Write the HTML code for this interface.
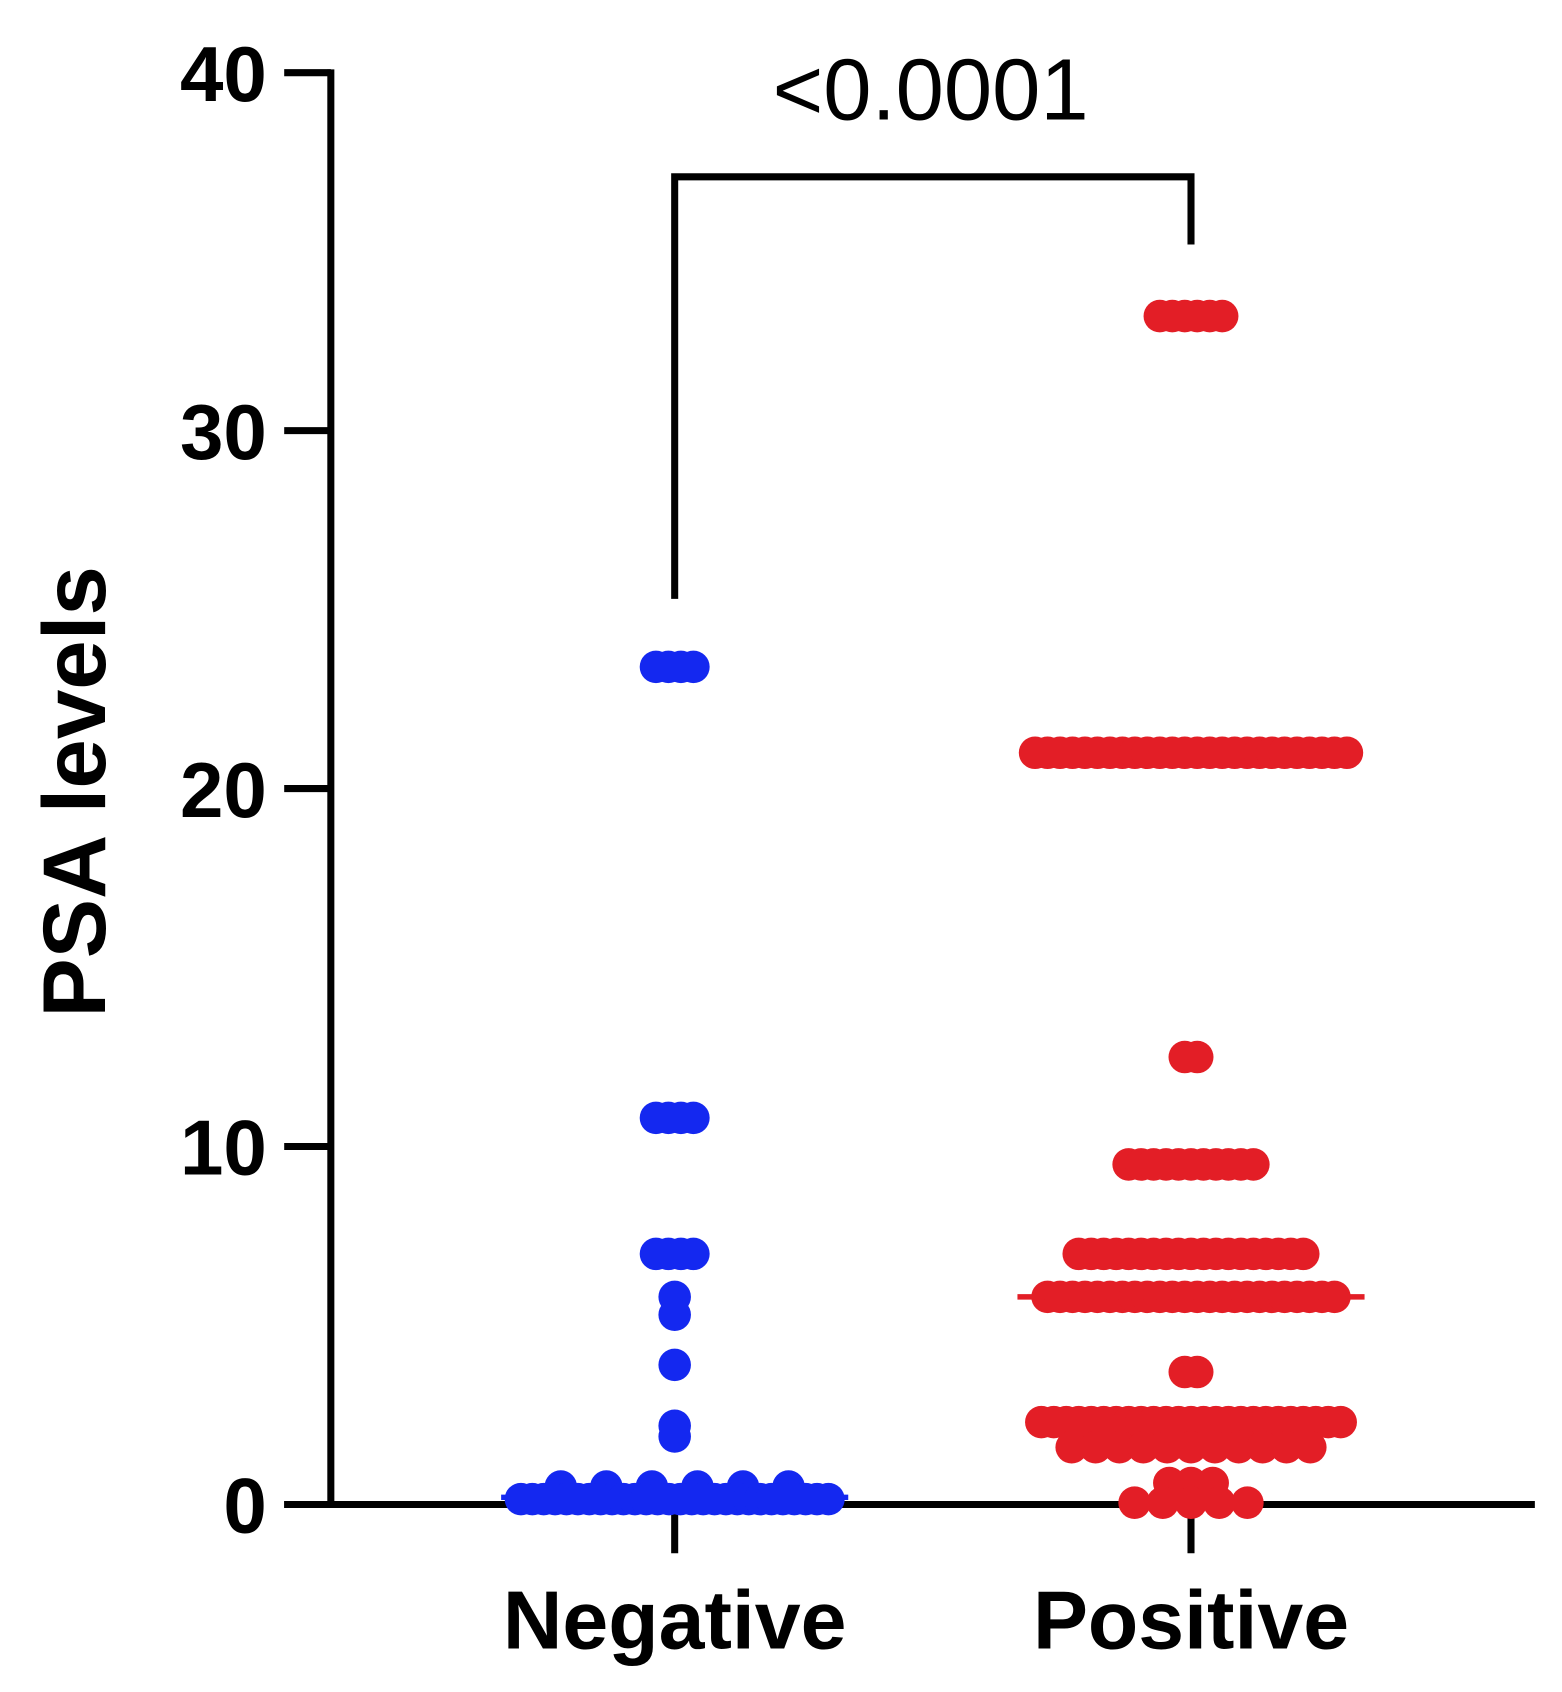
<!DOCTYPE html>
<html><head><meta charset="utf-8"><style>html,body{margin:0;padding:0;background:#fff}svg{display:block}</style></head>
<body>
<svg id="chart" width="1562" height="1692" viewBox="0 0 1562 1692" xmlns="http://www.w3.org/2000/svg" font-family="Liberation Sans, Arial, sans-serif">
<rect width="1562" height="1692" fill="#fff"/>
<g transform="scale(1.0847)">
<g id="axes"></g>
<g id="marks"></g>
</g>
</svg>
<script>
const categories = ["Negative", "Positive"];
const yTicks = [0, 10, 20, 30, 40];
const negativeValues = [23.4,23.4,23.4,23.4, 10.8,10.8,10.8,10.8, 7,7,7,7, 5.8,5.3, 3.9, 2.2,1.9,
  0.5,0.5,0.5,0.5,0.5,0.5,
  0.15,0.15,0.15,0.15,0.15,0.15,0.15,0.15,0.15,0.15,0.15,0.15,0.15,0.15,0.15,0.15,0.15,0.15,0.15,0.15,0.15,0.15,0.15,0.15,0.15,0.15,0.15,0.15];
const positiveValues = [33.2,33.2,33.2,33.2,33.2,33.2,
  21,21,21,21,21,21,21,21,21,21,21,21,21,21,21,21,21,21,21,21,21,21,21,21,21,21,
  12.5,12.5,
  9.5,9.5,9.5,9.5,9.5,9.5,9.5,9.5,9.5,9.5,9.5,
  7,7,7,7,7,7,7,7,7,7,7,7,7,7,7,7,7,7,7,
  5.8,5.8,5.8,5.8,5.8,5.8,5.8,5.8,5.8,5.8,5.8,5.8,5.8,5.8,5.8,5.8,5.8,5.8,5.8,5.8,5.8,5.8,5.8,5.8,
  3.7,3.7,
  2.3,2.3,2.3,2.3,2.3,2.3,2.3,2.3,2.3,2.3,2.3,2.3,2.3,2.3,2.3,2.3,2.3,2.3,2.3,2.3,2.3,2.3,2.3,2.3,2.3,
  1.6,1.6,1.6,1.6,1.6,1.6,1.6,1.6,1.6,1.6,1.6,
  0.6,0.6,0.6,
  0.05,0.05,0.05,0.05,0.05];
const medians = [0.2, 5.8];
const pLabel = "<0.0001";

const NS = "http://www.w3.org/2000/svg";
const y0 = 1387, yTop = 67, vMax = 40;
function yScale(v){ return y0 - (v / vMax) * (y0 - yTop); }
function xScale(i){ return 622 + i * 476; }
function mk(tag, attrs, parent){ const e = document.createElementNS(NS, tag); for (const k in attrs) e.setAttribute(k, attrs[k]); parent.appendChild(e); return e; }
const axes = document.getElementById('axes');
const marks = document.getElementById('marks');

let yl = mk('line', {x1:305, y1:yTop-3, x2:305, y2:y0+3, stroke:'#000','stroke-width':6.5}, axes);


let xl = mk('line', {x1:262, y1:y0, x2:1415, y2:y0, stroke:'#000','stroke-width':6.5}, axes);


yTicks.forEach(t => {
  const y = yScale(t);
  const tk = mk('line', {x1:262, y1:y, x2:305, y2:y, stroke:'#000','stroke-width':6.5}, axes);
  
  
  const tx = mk('text', {x:246, y:y+26, 'text-anchor':'end', 'font-size':72, 'font-weight':'bold'}, axes);
  tx.textContent = t;
  
  
});
categories.forEach((c, i) => {
  const x = xScale(i);
  const tk = mk('line', {x1:x, y1:y0, x2:x, y2:y0+45, stroke:'#000','stroke-width':6.5}, axes);
  
  
  const tx = mk('text', {x:x, y:1520, 'text-anchor':'middle', 'font-size':76, 'font-weight':'bold'}, axes);
  tx.textContent = c;
  
  
});
const yt = mk('text', {x:0, y:0, 'text-anchor':'middle', 'font-size':82, 'font-weight':'bold', transform:'translate(97,730) rotate(-90)'}, axes);
yt.textContent = "PSA levels";



const br = mk('path', {d:`M${xScale(0)} ${yScale(25.3)} V163 H${xScale(1)} V${yScale(35.2)}`, fill:'none', stroke:'#000','stroke-width':6.5}, axes);


const pt = mk('text', {x:858, y:110, 'text-anchor':'middle', 'font-size':80}, axes);
pt.textContent = pLabel;



const wideSpacing = {1.6:22, 0.6:20, 0.05:26, 0.5:42, 0.15:10.5};
function drawGroup(values, gi, color, name){
  const rows = {};
  values.forEach(v => { (rows[v] = rows[v] || []).push(v); });
  Object.keys(rows).forEach(k => {
    const arr = rows[k], n = arr.length;
    const sp = wideSpacing[k] || 11.5;
    arr.forEach((v, j) => {
      const c = mk('circle', {cx: xScale(gi) + (j - (n-1)/2) * sp, cy: yScale(v), r: 15, fill: color}, marks);
      
      
    });
  });
}
drawGroup(negativeValues, 0, '#1428f0', 'negative-point');
drawGroup(positiveValues, 1, '#e31e26', 'positive-point');
const medColors = ['#1428f0', '#e31e26'];
medians.forEach((m, i) => {
  const l = mk('line', {x1:xScale(i)-160, y1:yScale(m), x2:xScale(i)+160, y2:yScale(m), stroke:medColors[i], 'stroke-width':5}, marks);
  
  
});
</script>
</body></html>
